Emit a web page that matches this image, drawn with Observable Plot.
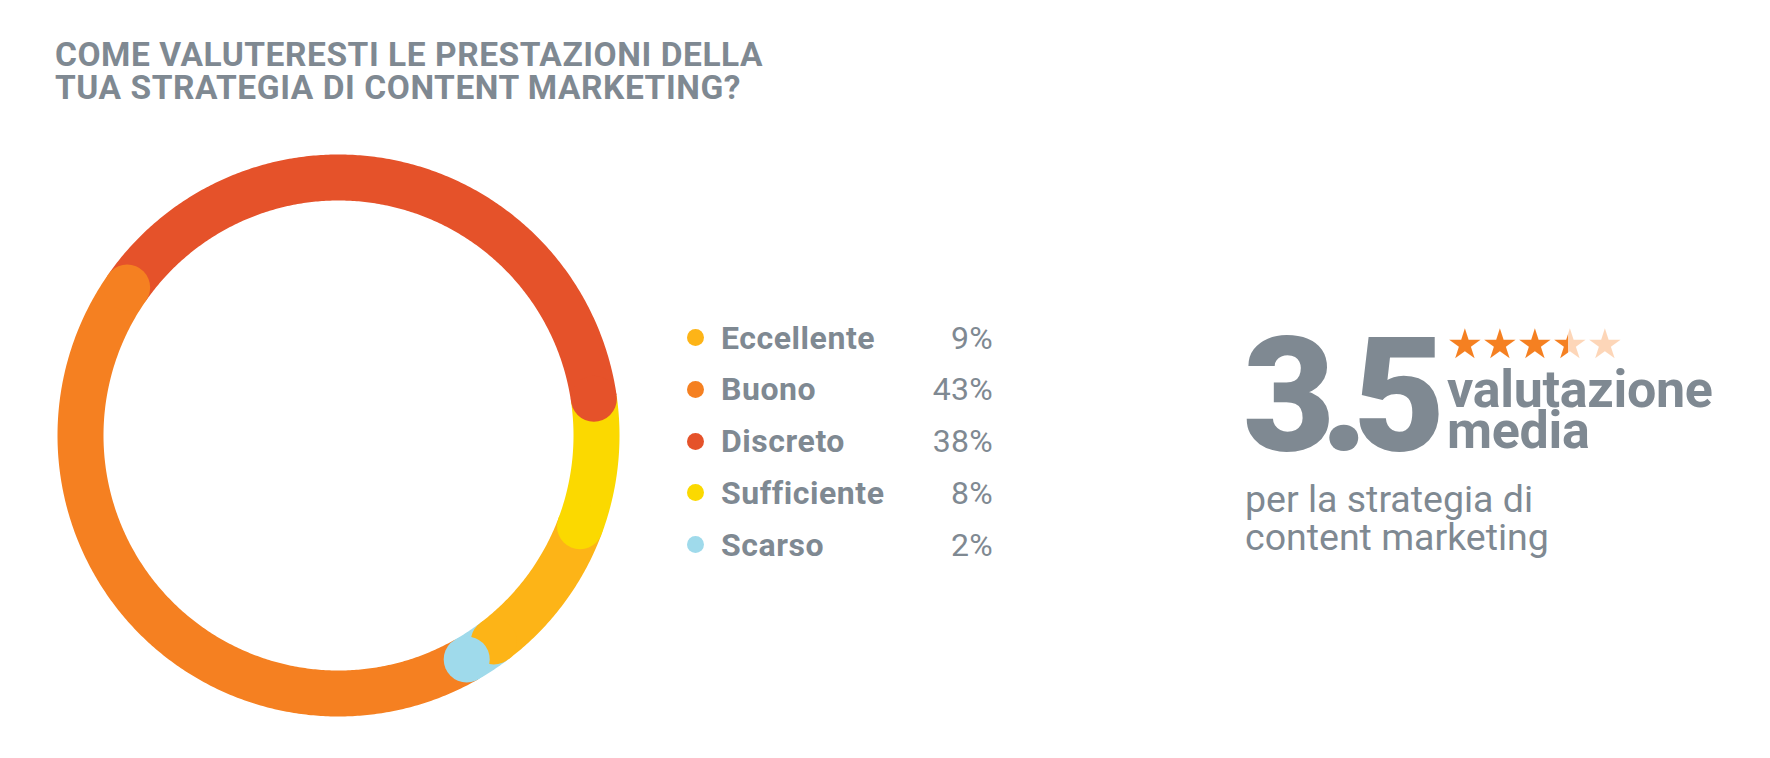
<!DOCTYPE html>
<html>
<head>
<meta charset="utf-8">
<script src="https://cdn.jsdelivr.net/npm/d3@7"></script>
<script src="https://cdn.jsdelivr.net/npm/@observablehq/plot@0.6"></script>
<style>
  html, body { margin: 0; padding: 0; background: #fff; }
  body { width: 1770px; height: 758px; position: relative; overflow: hidden; font-family: Roboto, "Noto Sans", sans-serif; color: #7F8992; }
  .abs { position: absolute; white-space: nowrap; }
  #title { left: 55px; top: 37.5px; font-size: 33.5px; line-height: 33.5px; font-weight: 700; letter-spacing: 0.55px; }
  #donut { left: 37.5px; top: 134.5px; }
  .lg-dot { position: absolute; width: 17px; height: 17px; border-radius: 50%; }
  .lg-name { font-size: 32px; line-height: 1; font-weight: 700; letter-spacing: 0.55px; }
  .lg-val { font-size: 32px; line-height: 1; font-weight: 400; text-align: right; letter-spacing: 0.3px; }
  #big { left: 1243px; top: 316px; font-size: 159px; line-height: 1; font-weight: 900; letter-spacing: -15px; }
  #stars { left: 1446px; top: 323.7px; font-family: "DejaVu Sans"; font-size: 41px; line-height: 1; height: 41px; display: flex; }
  #stars span { display: inline-flex; justify-content: center; width: 35px; letter-spacing: -3px; -webkit-background-clip: text; background-clip: text; color: transparent; }
  #lab { left: 1447px; top: 368.7px; font-size: 52px; line-height: 41px; font-weight: 700; letter-spacing: -0.3px; }
  #sub { left: 1245px; top: 479.5px; font-size: 37.5px; line-height: 38.3px; font-weight: 400; letter-spacing: 0px; }
</style>
</head>
<body>
<div id="title" class="abs"></div>
<div id="donut" class="abs"></div>
<div id="legend"></div>
<div id="big" class="abs"></div>
<div id="stars" class="abs"></div>
<div id="lab" class="abs"></div>
<div id="sub" class="abs"></div>
<script>
// ---- data ----
const titleLines = ["COME VALUTERESTI LE PRESTAZIONI DELLA", "TUA STRATEGIA DI CONTENT MARKETING?"];
// donut segments in clockwise order
const categories = ["Discreto", "Sufficiente", "Eccellente", "Scarso", "Buono"];
const shares = [38, 8, 9, 2, 43];
const colors = ["#E5522A", "#FBD900", "#FDB417", "#9FDAEB", "#F58021"];
// legend order
const legendOrder = ["Eccellente", "Buono", "Discreto", "Sufficiente", "Scarso"];
const rating = 3.5;
const maxStars = 5;
const ratingLabel = ["valutazione", "media"];
const ratingSub = ["per la strategia di", "content marketing"];

// ---- layout constants ----
const START_DEG = 305;   // where the first segment starts (clockwise from top)
const R = 258;           // ring centre-line radius (px)
const RING = 46;         // ring thickness (px)
const SIZE = 600;

// ---- title ----
document.getElementById("title").innerHTML = titleLines.join("<br>");

// ---- donut ----
const total = d3.sum(shares);
const pts = [], ends = [];
let cum = 0;
categories.forEach((c, i) => {
  const a0 = START_DEG + cum / total * 360;
  const a1 = a0 + shares[i] / total * 360;
  cum += shares[i];
  const n = Math.max(2, Math.ceil((a1 - a0) / 0.5));
  for (let k = 0; k <= n; k++) {
    const a = (a0 + (a1 - a0) * k / n) * Math.PI / 180;
    pts.push({cat: c, x: R * Math.sin(a), y: R * Math.cos(a)});
  }
  const ae = a1 * Math.PI / 180;
  ends.push({cat: c, x: R * Math.sin(ae), y: R * Math.cos(ae)});
});

const chart = Plot.plot({
  width: SIZE, height: SIZE, margin: 0,
  x: {domain: [-SIZE / 2, SIZE / 2], axis: null},
  y: {domain: [-SIZE / 2, SIZE / 2], axis: null},
  color: {domain: categories, range: colors},
  marks: [
    Plot.line(pts, {x: "x", y: "y", z: "cat", stroke: "cat", strokeWidth: RING, strokeLinecap: "butt", strokeLinejoin: "round"}),
    Plot.dot(ends, {x: "x", y: "y", fill: "cat", r: RING / 2, stroke: null})
  ]
});
document.getElementById("donut").appendChild(chart);

// ---- legend ----
const legend = document.getElementById("legend");
const ROW0 = 348.5, STEP = 51.75, F = 32;
legendOrder.forEach((c, i) => {
  const idx = categories.indexOf(c);
  const base = ROW0 + i * STEP;
  const dot = document.createElement("div");
  dot.className = "lg-dot";
  dot.style.left = (695 - 8.5) + "px";
  dot.style.top = (base - 11 - 8.5) + "px";
  dot.style.background = colors[idx];
  legend.appendChild(dot);
  const name = document.createElement("div");
  name.className = "abs lg-name";
  name.style.left = "721px";
  name.style.top = (base - 0.8415 * F) + "px";
  name.textContent = c;
  legend.appendChild(name);
  const val = document.createElement("div");
  val.className = "abs lg-val";
  val.style.right = (1770 - 993) + "px";
  val.style.top = (base - 0.8415 * F) + "px";
  val.textContent = shares[idx] + "%";
  legend.appendChild(val);
});

// ---- rating ----
document.getElementById("big").textContent = String(rating);
const stars = document.getElementById("stars");
for (let i = 0; i < maxStars; i++) {
  const f = Math.max(0, Math.min(1, rating - i)) * 100;
  const s = document.createElement("span");
  s.textContent = "\u2605";
  s.style.backgroundImage = `linear-gradient(90deg, #F58021 ${f}%, #FDD6B8 ${f}%)`;
  stars.appendChild(s);
}
document.getElementById("lab").innerHTML = ratingLabel.join("<br>");
document.getElementById("sub").innerHTML = ratingSub.join("<br>");
</script>
</body>
</html>
